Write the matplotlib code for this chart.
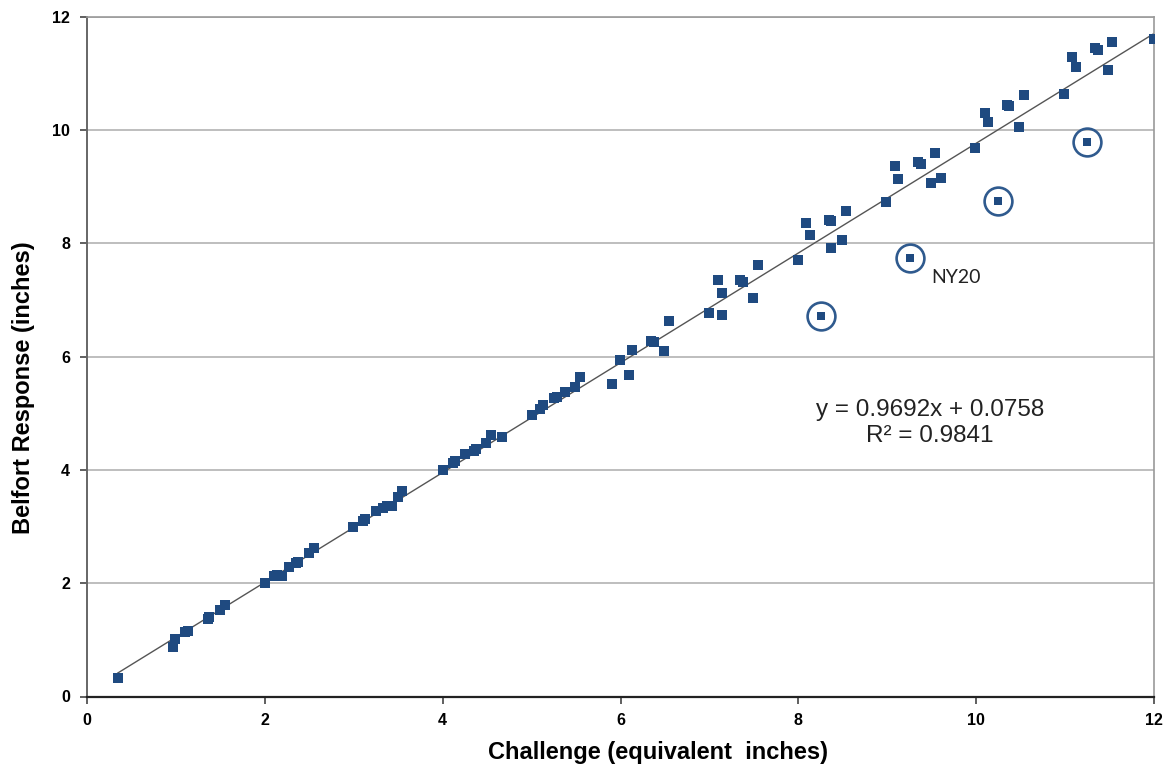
import matplotlib.pyplot as plt

# readings (challenge vs response, inches)
challenge = [0.35, 0.97, 0.99, 1.10, 1.14, 1.36, 1.38, 1.50, 1.55, 2.00,
             2.10, 2.14, 2.19, 2.27, 2.35, 2.38, 2.50, 2.55, 2.99, 3.11,
             3.13, 3.25, 3.33, 3.37, 3.43, 3.50, 3.54, 4.00, 4.12, 4.14,
             4.25, 4.35, 4.38, 4.49, 4.55, 4.67, 5.00, 5.10, 5.13, 5.25,
             5.29, 5.38, 5.49, 5.54, 5.90, 5.99, 6.13, 6.10, 6.34, 6.38,
             6.49, 6.54, 6.99, 7.14, 7.10, 7.14, 7.34, 7.38, 7.49, 7.54,
             7.99, 8.09, 8.13, 8.34, 8.37, 8.37, 8.49, 8.54, 8.98, 9.09,
             9.12, 9.34, 9.38, 9.49, 9.54, 9.60, 9.98, 10.10, 10.13, 10.34,
             10.37, 10.48, 10.54, 10.99, 11.08, 11.12, 11.33, 11.37, 11.48, 11.53,
             12.00]
response = [0.32, 0.88, 1.02, 1.14, 1.16, 1.37, 1.40, 1.53, 1.61, 2.01,
            2.12, 2.14, 2.13, 2.29, 2.36, 2.38, 2.53, 2.62, 3.00, 3.10,
            3.13, 3.28, 3.32, 3.36, 3.36, 3.52, 3.62, 4.00, 4.12, 4.15,
            4.28, 4.34, 4.37, 4.48, 4.62, 4.58, 4.97, 5.07, 5.15, 5.27,
            5.29, 5.38, 5.47, 5.64, 5.51, 5.94, 6.12, 5.68, 6.28, 6.25,
            6.10, 6.62, 6.77, 6.73, 7.36, 7.13, 7.35, 7.32, 7.04, 7.61,
            7.71, 8.36, 8.15, 8.41, 8.40, 7.91, 8.06, 8.57, 8.73, 9.37,
            9.14, 9.43, 9.40, 9.07, 9.60, 9.16, 9.68, 10.30, 10.15, 10.44,
            10.42, 10.06, 10.61, 10.64, 11.28, 11.11, 11.44, 11.41, 11.06, 11.55,
            11.61]

# circled outliers
outlier_x = [8.25, 9.25, 10.24, 11.24]
outlier_y = [6.71, 7.74, 8.75, 9.78]

slope = 0.9692
intercept = 0.0758
r2 = 0.9841

plt.rcParams['font.family'] = 'Liberation Sans'

fig = plt.figure(figsize=(11.66, 7.7), dpi=100)
ax = fig.add_axes([86.7/1166, 1-696.5/770, (1154.3-86.7)/1166, (696.5-16.7)/770])

ax.set_xlim(0, 12)
ax.set_ylim(0, 12)
ax.set_xticks(range(0, 13, 2))
ax.set_yticks(range(0, 13, 2))
ax.grid(axis='y', color='#b3b3b3', lw=1.2)
ax.set_axisbelow(True)

# trend line
xs = [min(challenge), max(challenge)]
ax.plot(xs, [slope*v + intercept for v in xs], color='#555555', lw=1.0, zorder=2)

ax.plot(challenge, response, 's', color='#1f4a80', ms=6.8, mew=0, zorder=3)
ax.plot(outlier_x, outlier_y, 's', color='#1f4a80', ms=6.3, mew=0, zorder=3)
ax.plot(outlier_x, outlier_y, 'o', mfc='none', mec='#2f5a8e', ms=20, mew=1.9, zorder=3)

ax.text(9.77, 7.39, 'NY20', fontsize=14, family='Lato', ha='center', va='center', color='#222222')
ax.text(9.48, 4.83, 'y = %.4fx + %.4f\nR² = %.4f' % (slope, intercept, r2),
        fontsize=17.5, ha='center', va='center', linespacing=1.2, color='#222222')

for s in ['top', 'right']:
    ax.spines[s].set_color('#999999')
    ax.spines[s].set_linewidth(1.2)
ax.spines['left'].set_color('#666666')
ax.spines['left'].set_linewidth(1.4)
ax.spines['bottom'].set_color('#222222')
ax.spines['bottom'].set_linewidth(1.6)

ax.tick_params(axis='both', direction='out', length=5, width=1.2, color='#444444',
               labelsize=11.5, pad=7, top=False, right=False)
for lab in ax.get_xticklabels() + ax.get_yticklabels():
    lab.set_fontweight('bold')

fig.text(658/1166, 1-752/770, 'Challenge (equivalent  inches)', fontsize=17,
         fontweight='bold', ha='center', va='center')
fig.text(24/1166, 1-388/770, 'Belfort Response (inches)', fontsize=17,
         fontweight='bold', ha='center', va='center', rotation=90)

fig.savefig('out.png', dpi=100)
